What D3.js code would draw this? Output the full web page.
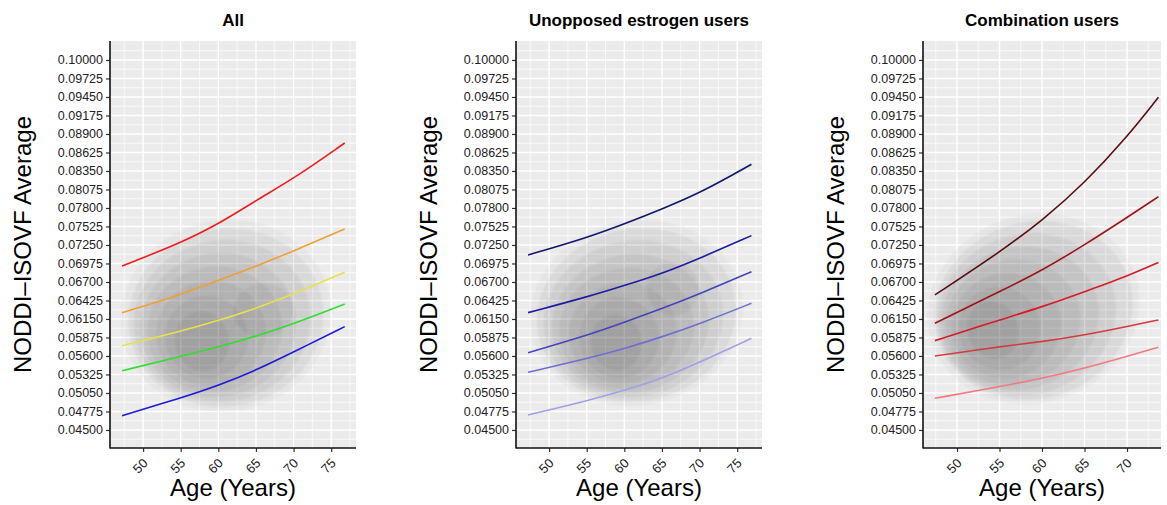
<!DOCTYPE html>
<html>
<head>
<meta charset="utf-8">
<title>NODDI-ISOVF by age</title>
<script src="https://cdn.jsdelivr.net/npm/d3@7"></script>
<style>
  body { margin: 0; background: #fff; font-family: "Liberation Sans", Arial, Helvetica, sans-serif; }
  .tick text { fill: #222; }
</style>
</head>
<body>
<div id="chart"></div>
<script>
// ---- data ----
var yTicks = [0.10000, 0.09725, 0.09450, 0.09175, 0.08900, 0.08625, 0.08350, 0.08075, 0.07800,
  0.07525, 0.07250, 0.06975, 0.06700, 0.06425, 0.06150, 0.05875, 0.05600, 0.05325, 0.05050,
  0.04775, 0.04500];
var xTicksLong = [50, 55, 60, 65, 70, 75];
var xTicksShort = [50, 55, 60, 65, 70];

var panelTitles = ["All", "Unopposed estrogen users", "Combination users"];

// age positions where the curves were read
var agesAll = [47.2, 54.9, 60.2, 65.1, 70.2, 76.8];
var agesUnopp = [47.2, 55.2, 60.2, 65.1, 70.2, 76.9];
var agesComb = [47.4, 55.0, 60.1, 65.0, 69.9, 73.7];

// All
var allRed    = [0.06938, 0.07275, 0.07572, 0.07919, 0.08250, 0.08766];
var allOrange = [0.06244, 0.06507, 0.06730, 0.06938, 0.07170, 0.07488];
var allYellow = [0.05753, 0.05961, 0.06135, 0.06309, 0.06532, 0.06844];
var allGreen  = [0.05381, 0.05590, 0.05738, 0.05897, 0.06086, 0.06373];
var allBlue   = [0.04713, 0.04971, 0.05169, 0.05392, 0.05670, 0.06036];

// Unopposed estrogen users
var unopp1 = [0.07101, 0.07364, 0.07572, 0.07790, 0.08030, 0.08450];
var unopp2 = [0.06244, 0.06482, 0.06655, 0.06829, 0.07060, 0.07389];
var unopp3 = [0.05649, 0.05912, 0.06110, 0.06309, 0.06532, 0.06853];
var unopp4 = [0.05357, 0.05566, 0.05714, 0.05887, 0.06086, 0.06383];
var unopp5 = [0.04723, 0.04936, 0.05095, 0.05268, 0.05515, 0.05863];

// Combination users
var comb1 = [0.06507, 0.07140, 0.07620, 0.08170, 0.08840, 0.09445];
var comb2 = [0.06086, 0.06556, 0.06878, 0.07250, 0.07650, 0.07968];
var comb3 = [0.05828, 0.06135, 0.06333, 0.06556, 0.06780, 0.06990];
var comb4 = [0.05600, 0.05738, 0.05813, 0.05912, 0.06036, 0.06135];
var comb5 = [0.04971, 0.05144, 0.05268, 0.05417, 0.05590, 0.05729];

var allColors = ["#ee1c1c", "#f0a030", "#e8e048", "#2ee02e", "#1a1ad8"];
var unoppColors = ["#14146e", "#1c1ca0", "#4444bc", "#6e6ed0", "#a0a0e6"];
var combColors = ["#5c0c12", "#9e1418", "#d41c22", "#d23c40", "#f27a7e"];

// density contour levels: [age centre, value centre, age radius, value radius]
var allDensity = [
  [61.0, 0.0620, 14.0, 0.0142], [61.0, 0.0617, 13.0, 0.0132], [60.5, 0.0612, 11.8, 0.0120],
  [60.0, 0.0606, 10.4, 0.0107], [59.5, 0.0600, 9.0, 0.0093], [59.0, 0.0594, 7.3, 0.0078],
  [58.4, 0.0588, 5.5, 0.0062], [57.8, 0.0582, 3.6, 0.0045], [66.0, 0.0628, 4.0, 0.0040]];
var unoppDensity = [
  [61.6, 0.0624, 14.2, 0.0137], [61.6, 0.0621, 13.3, 0.0128], [61.2, 0.0615, 12.0, 0.0116],
  [60.8, 0.0608, 10.5, 0.0103], [60.3, 0.0601, 9.0, 0.0090], [59.8, 0.0594, 7.2, 0.0075],
  [59.3, 0.0587, 5.3, 0.0060], [58.9, 0.0580, 3.4, 0.0042], [66.5, 0.0660, 3.5, 0.0040]];
var combDensity = [
  [59.0, 0.0630, 12.6, 0.0139], [59.0, 0.0628, 11.8, 0.0131], [58.2, 0.0622, 10.6, 0.0119],
  [57.4, 0.0616, 9.4, 0.0106], [56.6, 0.0610, 8.0, 0.0093], [55.8, 0.0605, 6.5, 0.0078],
  [55.0, 0.0601, 4.8, 0.0062], [54.2, 0.0599, 3.0, 0.0044]];

// ---- layout ----
var width = 1167, height = 505;
var plotTop = 41, plotBottom = 448;

var panels = [
  { title: panelTitles[0], left: 110, right: 356, xDomain: [45.6, 78.3], xTicks: xTicksLong,
    ages: agesAll, series: [allRed, allOrange, allYellow, allGreen, allBlue], colors: allColors,
    density: allDensity, tilt: -12 },
  { title: panelTitles[1], left: 516, right: 762, xDomain: [45.6, 78.3], xTicks: xTicksLong,
    ages: agesUnopp, series: [unopp1, unopp2, unopp3, unopp4, unopp5], colors: unoppColors,
    density: unoppDensity, tilt: -12 },
  { title: panelTitles[2], left: 923, right: 1161, xDomain: [46.0, 74.0], xTicks: xTicksShort,
    ages: agesComb, series: [comb1, comb2, comb3, comb4, comb5], colors: combColors,
    density: combDensity, tilt: -18 }
];

var svg = d3.select("#chart").append("svg")
    .attr("width", width)
    .attr("height", height)
    .style("display", "block");

// soft edges for the density contours
var defs = svg.append("defs");
defs.append("filter").attr("id", "soft")
  .attr("x", "-20%").attr("y", "-20%").attr("width", "140%").attr("height", "140%")
  .append("feGaussianBlur").attr("stdDeviation", 1.3);

var y = d3.scaleLinear().domain([0.04232, 0.10282]).range([plotBottom, plotTop]);

// minor breaks sit halfway between the major ones
var yMinor = [];
for (var i = 0; i < yTicks.length - 1; i++) yMinor.push((yTicks[i] + yTicks[i + 1]) / 2);
yMinor.push(0.10 + 0.001375, 0.045 - 0.001375);

panels.forEach(function(p, pi) {
  var x = d3.scaleLinear().domain(p.xDomain).range([p.left, p.right]);
  var g = svg.append("g");
  var clipId = "clip" + pi;

  g.append("clipPath").attr("id", clipId)
    .append("rect")
    .attr("x", p.left).attr("y", plotTop)
    .attr("width", p.right - p.left).attr("height", plotBottom - plotTop);

  // panel background
  g.append("rect")
    .attr("x", p.left).attr("y", plotTop)
    .attr("width", p.right - p.left).attr("height", plotBottom - plotTop)
    .attr("fill", "#ebebeb");

  var xMinor = [];
  for (var a = p.xTicks[0] - 2.5; a < p.xDomain[1]; a += 5) xMinor.push(a);

  var grid = g.append("g").attr("clip-path", "url(#" + clipId + ")");
  grid.selectAll(".ymin").data(yMinor).enter().append("line")
    .attr("x1", p.left).attr("x2", p.right)
    .attr("y1", function(d) { return y(d); }).attr("y2", function(d) { return y(d); })
    .attr("stroke", "#fff").attr("stroke-width", 0.7);
  grid.selectAll(".xmin").data(xMinor).enter().append("line")
    .attr("y1", plotTop).attr("y2", plotBottom)
    .attr("x1", function(d) { return x(d); }).attr("x2", function(d) { return x(d); })
    .attr("stroke", "#fff").attr("stroke-width", 0.7);
  grid.selectAll(".ymaj").data(yTicks).enter().append("line")
    .attr("x1", p.left).attr("x2", p.right)
    .attr("y1", function(d) { return y(d); }).attr("y2", function(d) { return y(d); })
    .attr("stroke", "#fff").attr("stroke-width", 1.4);
  grid.selectAll(".xmaj").data(p.xTicks).enter().append("line")
    .attr("y1", plotTop).attr("y2", plotBottom)
    .attr("x1", function(d) { return x(d); }).attr("x2", function(d) { return x(d); })
    .attr("stroke", "#fff").attr("stroke-width", 1.4);

  // density blobs
  grid.append("g").attr("filter", "url(#soft)")
    .selectAll(".dens").data(p.density).enter().append("ellipse")
    .attr("cx", function(d) { return x(d[0]); })
    .attr("cy", function(d) { return y(d[1]); })
    .attr("rx", function(d) { return x(d[0] + d[2]) - x(d[0]); })
    .attr("ry", function(d) { return y(d[1]) - y(d[1] + d[3]); })
    .attr("transform", function(d) { return "rotate(" + p.tilt + " " + x(d[0]) + " " + y(d[1]) + ")"; })
    .attr("fill", "#000")
    .attr("fill-opacity", function(d, k) { return k === 0 ? 0.03 : 0.05; });

  // curves
  var line = d3.line()
    .x(function(d) { return x(d[0]); })
    .y(function(d) { return y(d[1]); })
    .curve(d3.curveBasis);
  p.series.forEach(function(s, si) {
    var pts = p.ages.map(function(a, k) { return [a, s[k]]; });
    g.append("path")
      .attr("d", line(pts))
      .attr("fill", "none")
      .attr("stroke", p.colors[si])
      .attr("stroke-width", 1.6);
  });

  // axes
  var yAxis = d3.axisLeft(y).tickValues(yTicks).tickSize(4).tickPadding(3)
      .tickFormat(d3.format(".5f"));
  var ya = g.append("g").attr("transform", "translate(" + p.left + ",0)").call(yAxis);
  ya.select(".domain").remove();
  ya.selectAll(".tick line").attr("stroke", "#333").attr("stroke-width", 1.2);
  ya.selectAll(".tick text").style("font-size", "12.5px")
    .style("font-family", "'Liberation Sans', Arial, sans-serif");

  var xAxis = d3.axisBottom(x).tickValues(p.xTicks).tickSize(4).tickPadding(2);
  var xa = g.append("g").attr("transform", "translate(0," + plotBottom + ")").call(xAxis);
  xa.select(".domain").remove();
  xa.selectAll(".tick line").attr("stroke", "#333").attr("stroke-width", 1.2);
  xa.selectAll(".tick text")
    .style("font-size", "13px")
    .style("font-family", "'Liberation Sans', Arial, sans-serif")
    .attr("text-anchor", "end")
    .attr("dy", null)
    .attr("y", null)
    .attr("transform", "translate(5,16) rotate(-45)");

  // axis lines
  g.append("line").attr("x1", p.left).attr("x2", p.left).attr("y1", plotTop).attr("y2", plotBottom + 0.5)
    .attr("stroke", "#111").attr("stroke-width", 1.6);
  g.append("line").attr("x1", p.left).attr("x2", p.right).attr("y1", plotBottom).attr("y2", plotBottom)
    .attr("stroke", "#111").attr("stroke-width", 1.6);

  // titles
  var cx = (p.left + p.right) / 2;
  g.append("text")
    .attr("x", cx).attr("y", 26)
    .attr("text-anchor", "middle")
    .style("font-size", "17px").style("font-weight", "bold")
    .text(p.title);

  g.append("text")
    .attr("x", cx).attr("y", 496)
    .attr("text-anchor", "middle")
    .style("font-size", "24px")
    .text("Age (Years)");

  g.append("text")
    .attr("transform", "translate(" + (p.left - 79) + "," + ((plotTop + plotBottom) / 2) + ") rotate(-90)")
    .attr("text-anchor", "middle")
    .style("font-size", "24px")
    .text("NODDI\u2013ISOVF Average");
});
</script>
</body>
</html>
